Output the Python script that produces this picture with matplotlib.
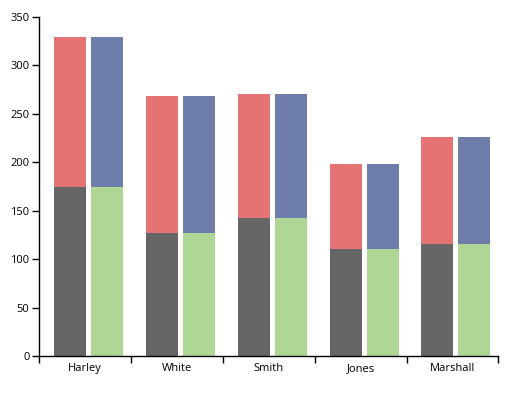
import numpy as np
import matplotlib
matplotlib.use("Agg")
import matplotlib.pyplot as plt

names = ["Harley", "White", "Smith", "Jones", "Marshall"]
base = [175, 127, 142, 110, 116]
total = [329, 268, 271, 198, 226]
top = [t - b for t, b in zip(total, base)]

plt.rcParams['font.family'] = ['Open Sans', 'DejaVu Sans']

fig = plt.figure(figsize=(5.1, 3.97), dpi=100)
ax = fig.add_axes([39.3 / 510, 41 / 397, 459 / 510, 339 / 397])

x = np.arange(len(names))
w = 32 / 92
ax.bar(x + 15 / 92, base, width=w, align="edge", color="#666666")
ax.bar(x + 15 / 92, top, bottom=base, width=w, align="edge", color="#e57373")
ax.bar(x + 52 / 92, base, width=w, align="edge", color="#aed695")
ax.bar(x + 52 / 92, top, bottom=base, width=w, align="edge", color="#6f7daa")

ax.set_xlim(0, len(names))
ax.set_ylim(0, 350)
ax.set_yticks(range(0, 351, 50))
ax.set_xticks(np.arange(len(names) + 1))
ax.set_xticklabels([])
ax.set_xticks(x + 0.5, minor=True)
ax.set_xticklabels(names, minor=True)
ax.tick_params(axis="x", which="minor", length=0, pad=5)
ax.tick_params(axis="both", which="major", length=5, width=1, labelsize=8, color="black", pad=2)
ax.tick_params(axis="x", which="minor", labelsize=8)

for s in ["top", "right"]:
    ax.spines[s].set_visible(False)
for s in ["left", "bottom"]:
    ax.spines[s].set_linewidth(1)

fig.savefig("out.png", dpi=100)
